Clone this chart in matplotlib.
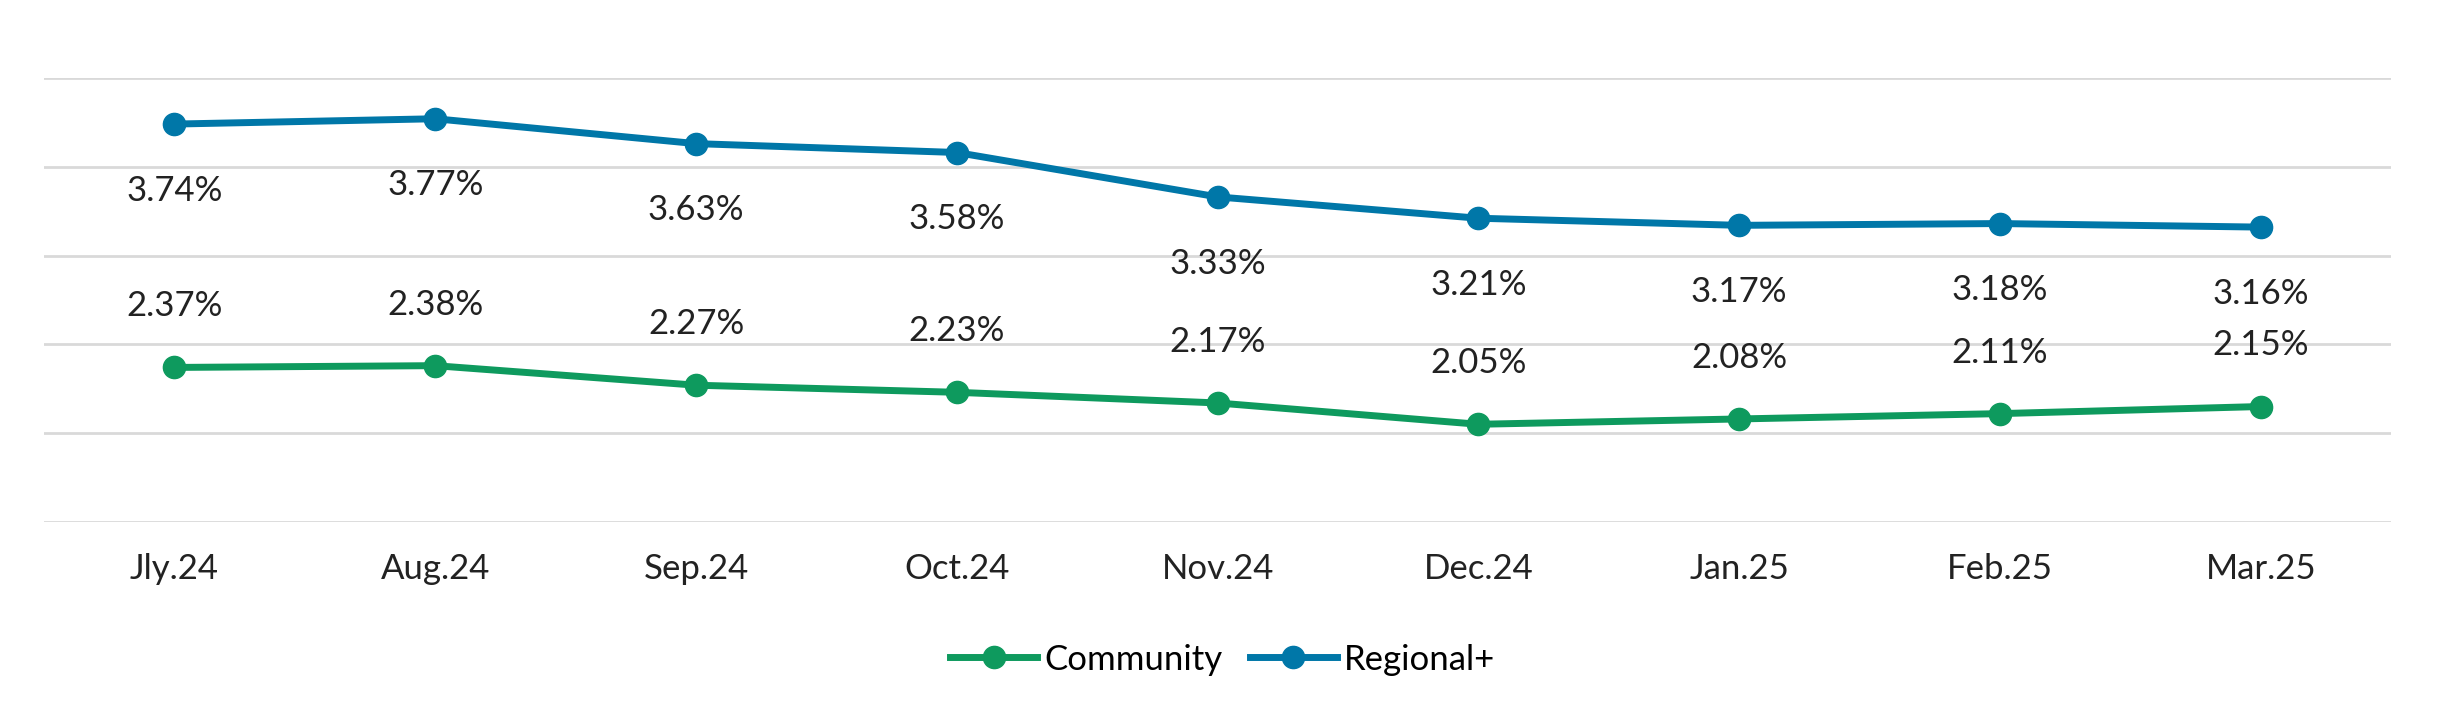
import matplotlib.pyplot as plt

months = ['Jly.24', 'Aug.24', 'Sep.24', 'Oct.24', 'Nov.24', 'Dec.24', 'Jan.25', 'Feb.25', 'Mar.25']
community = [2.37, 2.38, 2.27, 2.23, 2.17, 2.05, 2.08, 2.11, 2.15]
regional = [3.74, 3.77, 3.63, 3.58, 3.33, 3.21, 3.17, 3.18, 3.16]

plt.rcParams['font.family'] = ['Lato', 'DejaVu Sans']
verde = '#0E9A5E'
azul = '#0077A8'

fig = plt.figure(figsize=(24.45, 7.28), dpi=100)
ax = fig.add_axes([0.018, 0.283, 0.96, 0.61])
x = range(len(months))

ax.plot(x, community, color=verde, lw=5, marker='o', ms=16, label='Community')
ax.plot(x, regional, color=azul, lw=5, marker='o', ms=16, label='Regional+')

for i in x:
    ax.annotate(f'{regional[i]:.2f}%', (i, regional[i]), xytext=(0, -48), textcoords='offset points',
                ha='center', va='center', fontsize=25, color='#222222')
    ax.annotate(f'{community[i]:.2f}%', (i, community[i]), xytext=(0, 44), textcoords='offset points',
                ha='center', va='center', fontsize=25, color='#222222')

ax.set_xlim(-0.5, len(months) - 0.5)
ax.set_ylim(1.5, 4.0)
ax.set_yticks([1.5, 2.0, 2.5, 3.0, 3.5, 4.0])
ax.yaxis.grid(True, color='#D9D9D9', lw=2)
ax.set_axisbelow(True)
ax.tick_params(axis='y', left=False, labelleft=False)
ax.tick_params(axis='x', length=0, labelsize=25, pad=22, colors='#222222')
ax.set_xticks(list(x))
ax.set_xticklabels(months)
for s in ax.spines.values():
    s.set_visible(False)

fig.legend(loc='center', bbox_to_anchor=(0.5, 0.094), ncol=2, frameon=False, fontsize=25,
           handlelength=2.5, columnspacing=0.8, handletextpad=0.2)

fig.savefig('out.png', dpi=100)
